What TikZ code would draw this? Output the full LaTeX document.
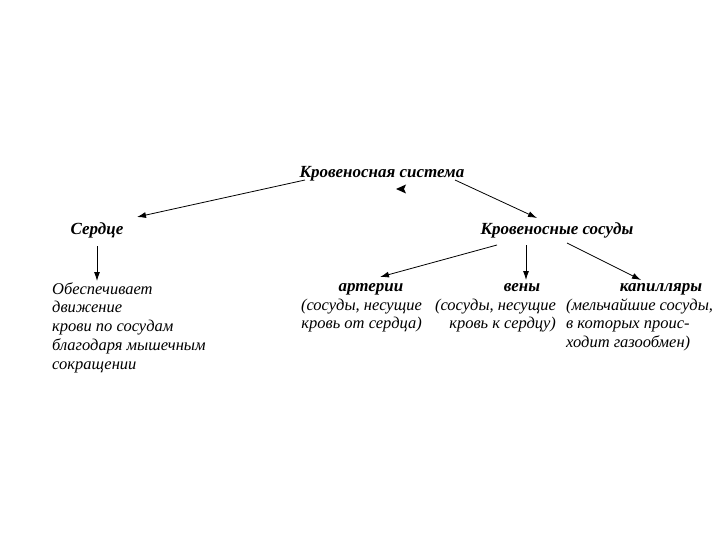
\documentclass[tikz,border=0pt]{standalone}
\usepackage{fontspec}
\setmainfont{Liberation Serif}
\usetikzlibrary{arrows.meta}
\begin{document}
\begin{tikzpicture}[x=1pt,y=-1pt,
  head/.style={font=\fontsize{17}{19}\selectfont\bfseries\itshape, inner sep=0pt},
  body/.style={font=\fontsize{16.5}{18.8}\selectfont\itshape, inner sep=0pt},
  link/.style={line width=0.8pt, -{Latex[length=9pt,width=6pt]}}]
\useasboundingbox (0,0) rectangle (720,540);
\node[head, anchor=base] (sys) at (382,178) {Кровеносная система};
\node[head, anchor=base] (heart) at (97,235) {Сердце};
\node[head, anchor=base] (vess) at (557,235) {Кровеносные сосуды};
\node[body, anchor=base west, align=left] (htext) at (52,369.2) {Обеспечивает\\движение\\крови по сосудам\\благодаря мышечным\\сокращении};
\node[head, anchor=base] (art) at (371,291) {артерии};
\node[head, anchor=base] (ven) at (522,291) {вены};
\node[head, anchor=base] (cap) at (661,291) {капилляры};
\node[body, anchor=base east, align=right] (atext) at (422,328.8) {(сосуды, несущие\\кровь от сердца)};
\node[body, anchor=base east, align=right] (vtext) at (556,328.8) {(сосуды, несущие\\кровь к сердцу)};
\node[body, anchor=base west, align=left] (ctext) at (566,347.6) {(мельчайшие сосуды,\\в которых проис-\\ходит газообмен)};
\coordinate (s1) at (305,180);
\coordinate (s2) at (455,180);
\draw[link] (s1) -- (137,217) coordinate (h1);
\draw[link] (s2) -- (537,218) coordinate (v1);
\draw[link] (97,246) coordinate (h0) -- (97,281) coordinate (h2);
\draw[link] (497,245) coordinate (a0) -- (380,277) coordinate (a1);
\draw[link] (526,245) coordinate (b0) -- (526,280) coordinate (b1);
\draw[link] (567,243) coordinate (c0) -- (641,280) coordinate (c1);
\fill (396,189) -- (406,184.5) -- (404,189) -- (406,193.5) -- cycle;
\end{tikzpicture}
\end{document}
